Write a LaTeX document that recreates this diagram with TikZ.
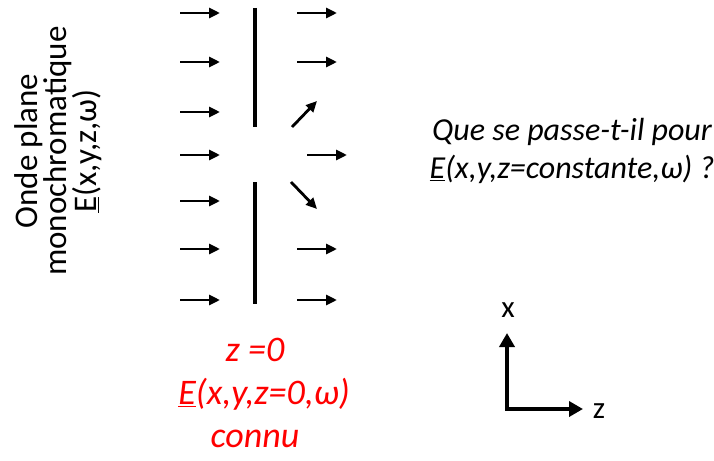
\documentclass[tikz,border=0pt]{standalone}
\usepackage{fontspec}
\setmainfont{Carlito}
\usetikzlibrary{arrows.meta}
\tikzset{
  ray/.style={line width=2.8pt, -{Triangle[length=11pt,width=10pt]}},
  wall/.style={line width=4pt},
  axis/.style={line width=4pt, {Triangle[length=14pt,width=15pt]}-{Triangle[length=14pt,width=15pt]}},
}
\begin{document}
\begin{tikzpicture}[x=1pt, y=-1pt]
        \useasboundingbox (0,0) rectangle (714,460);
        % Incident plane wave
        \foreach \i/\y in {1/13,2/62,3/112,4/155,5/201,6/249,7/300} {
            \coordinate (a\i) at (180,\y);
            \coordinate (b\i) at (220,\y);
            \draw[ray] (a\i) -- (b\i);
        }
        % Screen with slit at z=0
        \coordinate (w1) at (255,8);
        \coordinate (w2) at (255,127);
        \coordinate (w3) at (255,182);
        \coordinate (w4) at (255,304);
        \draw[wall] (w1) -- (w2);
        \draw[wall] (w3) -- (w4);
        % Field after the screen
        \foreach \i/\xa/\ya/\xb/\yb in {1/297/13/337/13, 2/297/62/337/62, 3/292/127/317/101,
            4/307/155/347/155, 5/291/182/317/209, 6/297/249/337/249, 7/297/300/337/300} {
            \coordinate (c\i) at (\xa,\ya);
            \coordinate (d\i) at (\xb,\yb);
            \draw[ray] (c\i) -- (d\i);
        }
        % Labels
        \node[rotate=90, align=center, font=\fontsize{33}{29}\selectfont] (onde) at (58,151)
            {Onde plane\\monochromatique\\\underline{E}(x,y,z,ω)};
        \node[red, align=center, font=\fontsize{36}{43}\selectfont\itshape] (connu) at (264,393)
            {z =0\hspace*{18pt}\\\underline{E}(x,y,z=0,ω)\\connu\hspace*{18pt}};
        \node[align=center, font=\fontsize{32}{38}\selectfont\itshape] (question) at (572,151)
            {Que se passe-t-il pour\\\underline{E}(x,y,z=constante,ω) ?};
        % Axes
        \coordinate (o) at (507,409);
        \coordinate (ox) at (507,333);
        \coordinate (oz) at (583,409);
        \draw[axis] (ox) -- (o) -- (oz);
        \node[font=\fontsize{31}{36}\selectfont] (xlab) at (508,310) {x};
        \node[font=\fontsize{31}{36}\selectfont] (zlab) at (599,411) {z};
\end{tikzpicture}
\end{document}
